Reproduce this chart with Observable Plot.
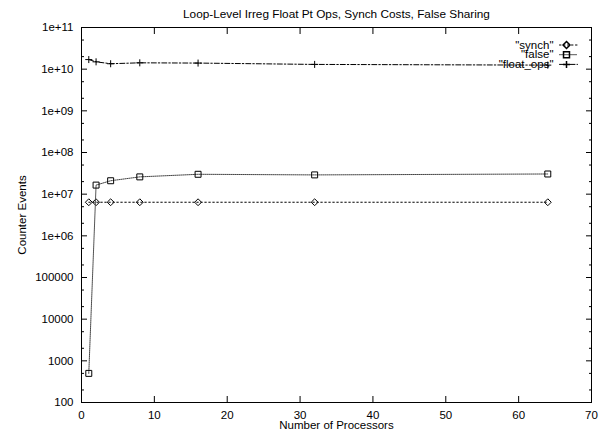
<!DOCTYPE html>
<html><head><meta charset="utf-8">
<script src="https://cdn.jsdelivr.net/npm/d3@7"></script>
<script src="https://cdn.jsdelivr.net/npm/@observablehq/plot@0.6"></script>
<style>html,body{margin:0;padding:0;background:#fff}svg{display:block}</style>
</head><body><div id="chart"></div>
<script>
const title = "Loop-Level Irreg Float Pt Ops, Synch Costs, False Sharing";
const xLabel = "Number of Processors";
const yLabel = "Counter Events";
const processors = [1, 2, 4, 8, 16, 32, 64];
const synch = [6.4e6, 6.4e6, 6.4e6, 6.4e6, 6.4e6, 6.4e6, 6.4e6];
const falseSharing = [500, 1.65e7, 2.1e7, 2.6e7, 3.0e7, 2.9e7, 3.05e7];
const floatOps = [1.7e10, 1.5e10, 1.35e10, 1.42e10, 1.4e10, 1.3e10, 1.25e10];
const seriesNames = ['"synch"', '"false"', '"float_ops"'];
const xTicks = [0, 10, 20, 30, 40, 50, 60, 70];
const yTicks = [1e2, 1e3, 1e4, 1e5, 1e6, 1e7, 1e8, 1e9, 1e10, 1e11];
const yTickLabels = ["100", "1000", "10000", "100000", "1e+06", "1e+07", "1e+08", "1e+09", "1e+10", "1e+11"];
const yMinorTicks = [2e2, 5e2, 2e3, 5e3, 2e4, 5e4, 2e5, 5e5, 2e6, 5e6, 2e7, 5e7, 2e8, 5e8, 2e9, 5e9, 2e10, 5e10];

const font = "Liberation Sans, Arial, Helvetica, sans-serif";
const fs = 11.5;
const styles = [
  {symbol: "diamond2", r: 3.1, stroke: "#000", dash: "1.5,2.5"},
  {symbol: "square2", r: 3.8, stroke: "#444", dash: "1,1"},
  {symbol: "plus", r: 2.4, stroke: "#000", dash: "5,2,1.5,2"}
];
const seriesValues = [synch, falseSharing, floatOps];
const tables = seriesValues.map(vals => processors.map((p, i) => ({p, v: vals[i]})));
const hLine = {draw(context, l) { context.moveTo(0, 0); context.lineTo(0, -l); }};

const marks = [];
tables.forEach((t, k) => {
  const s = styles[k];
  marks.push(Plot.line(t, {x: "p", y: "v", stroke: s.stroke, strokeWidth: 1, strokeDasharray: s.dash}));
  marks.push(Plot.dot(t, {x: "p", y: "v", symbol: s.symbol, r: s.r, stroke: "#000", fill: "none", strokeWidth: 1}));
});
// legend
seriesNames.forEach((name, k) => {
  const s = styles[k];
  const dy = 17.5 + k * 9.7;
  marks.push(Plot.text([name], {frameAnchor: "top-right", dx: -38, dy, textAnchor: "end", lineAnchor: "middle", fontSize: fs, fontFamily: font, fill: "#000"}));
  marks.push(Plot.vector([0], {frameAnchor: "top-right", dx: -32, dy, rotate: 90, length: 18, anchor: "start", shape: hLine, stroke: s.stroke, strokeWidth: 1, strokeDasharray: s.dash}));
  marks.push(Plot.dot([0], {frameAnchor: "top-right", dx: -25, dy, symbol: s.symbol, r: s.r, stroke: "#000", fill: "none"}));
});

const tickOpts = {fill: "none", stroke: "#000", label: null};
const chart = Plot.plot({
  width: 603,
  height: 431,
  marginLeft: 81,
  marginRight: 12,
  marginTop: 27,
  marginBottom: 29,
  style: {fontFamily: font, fontSize: fs + "px", background: "#fff"},
  x: {domain: [0, 70], label: null},
  y: {type: "log", domain: [100, 1e11], label: null},
  marks: [
    Plot.axisX(xTicks, {anchor: "bottom", tickSize: 0, tickPadding: 8, fontSize: fs, fill: "#000", label: null}),
    Plot.axisX(xTicks, {anchor: "bottom", tickSize: -6, ...tickOpts}),
    Plot.axisX(xTicks, {anchor: "top", tickSize: -6, ...tickOpts}),
    Plot.axisY(yTicks, {anchor: "left", tickSize: 0, tickPadding: 8, fontSize: fs, fill: "#000", tickFormat: d => yTickLabels[yTicks.indexOf(d)], label: null}),
    Plot.axisY(yTicks, {anchor: "left", tickSize: -6, ...tickOpts}),
    Plot.axisY(yTicks, {anchor: "right", tickSize: -6, ...tickOpts}),
    Plot.axisY(yMinorTicks, {anchor: "left", tickSize: -3, ...tickOpts}),
    Plot.axisY(yMinorTicks, {anchor: "right", tickSize: -3, ...tickOpts}),
    Plot.frame({stroke: "#000", strokeWidth: 1}),
    ...marks,
    Plot.text([title], {frameAnchor: "top", dy: -13, lineAnchor: "middle", textAnchor: "middle", fontSize: 11.8, fontFamily: font, fill: "#000"}),
    Plot.text([xLabel], {frameAnchor: "bottom", dy: 23, lineAnchor: "middle", textAnchor: "middle", fontSize: fs, fontFamily: font, fill: "#000"}),
    Plot.text([yLabel], {frameAnchor: "left", dx: -59, rotate: -90, lineAnchor: "middle", textAnchor: "middle", fontSize: fs, fontFamily: font, fill: "#000"})
  ]
});
document.getElementById("chart").appendChild(chart);
</script>
</body></html>
